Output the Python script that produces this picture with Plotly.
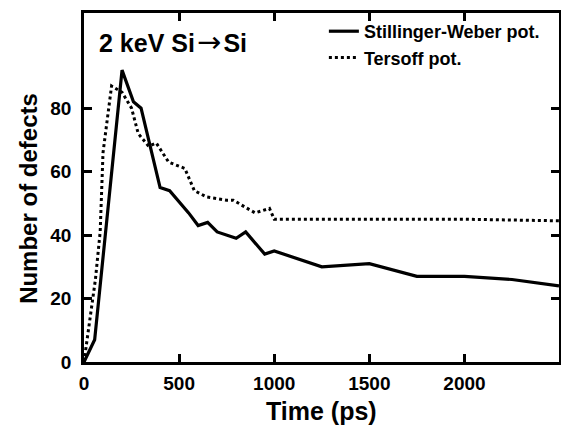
import plotly.graph_objects as go

sw_time = [0, 56, 200, 260, 300, 400, 450, 550, 600, 650, 700, 800, 850, 950, 1000, 1250, 1500, 1750, 2000, 2250, 2497]
sw_defects = [0, 7, 92, 82, 80, 55, 54, 47, 43, 44, 41, 39, 41, 34, 35, 30, 31, 27, 27, 26, 24]

ts_time = [0, 30, 60, 85, 100, 145, 200, 250, 285, 340, 380, 445, 530, 580, 645, 750, 785, 870, 900, 975, 1000, 1500, 2000, 2497]
ts_defects = [0, 13, 26, 41, 66, 87, 85, 80, 72, 68, 69, 63, 61, 54, 52, 51, 51, 48, 47, 48.4, 45, 45, 45, 44.5]

x_ticks = [0, 500, 1000, 1500, 2000]
y_ticks = [0, 20, 40, 60, 80]

FONT = "Liberation Sans, Arial, Helvetica, sans-serif"

fig = go.Figure()
fig.add_trace(go.Scatter(x=sw_time, y=sw_defects, mode="lines",
                         name="Stillinger-Weber pot.",
                         line=dict(color="black", width=3.2)))
fig.add_trace(go.Scatter(x=ts_time, y=ts_defects, mode="lines",
                         name="Tersoff pot.",
                         line=dict(color="black", width=3, dash="dot")))

axis_common = dict(showline=True, linecolor="black", linewidth=2.5, mirror="ticks",
                   ticks="inside", ticklen=8, tickwidth=2.5, tickcolor="black",
                   showgrid=False, zeroline=False, automargin=False,
                   tickfont=dict(family=FONT, size=19, color="black", weight="bold"))

fig.update_xaxes(range=[0, 2497], tickvals=x_ticks, ticklabelstandoff=2, **axis_common)
fig.update_yaxes(range=[0, 110], tickvals=y_ticks, ticklabelstandoff=6, **axis_common)

# axis titles
fig.add_annotation(text="<b>Time (ps)</b>", xref="paper", yref="paper",
                   x=0.5, y=-0.095, xanchor="center", yanchor="top",
                   showarrow=False, font=dict(family=FONT, size=25, color="black"))
fig.add_annotation(text="<b>Number of defects</b>", xref="paper", yref="paper",
                   x=-0.116, y=0.47, xanchor="center", yanchor="middle", textangle=-90,
                   showarrow=False, font=dict(family=FONT, size=24, color="black"))

fig.add_annotation(text="<b>2 keV Si\u200a<span style='font-family:DejaVu Sans;font-size:29px;font-weight:normal'>\u2192</span>\u200aSi</b>",
                   xref="paper", yref="paper",
                   x=0.027, y=0.917, xanchor="left", yanchor="middle", showarrow=False,
                   font=dict(family=FONT, size=25, color="black"))

fig.update_layout(
    width=561, height=425,
    margin=dict(l=84, r=2, t=13, b=63),
    plot_bgcolor="white", paper_bgcolor="white",
    font=dict(family=FONT, color="black"),
    legend=dict(x=0.505, y=1.0, xanchor="left", yanchor="top",
                bgcolor="rgba(0,0,0,0)", borderwidth=0,
                font=dict(family=FONT, size=18, color="black", weight="bold"),
                itemwidth=30, tracegroupgap=0),
    showlegend=True,
)

fig.write_html("out.html", config={"displayModeBar": False},
               post_script="document.body.style.margin='0';document.body.style.overflow='hidden';")
